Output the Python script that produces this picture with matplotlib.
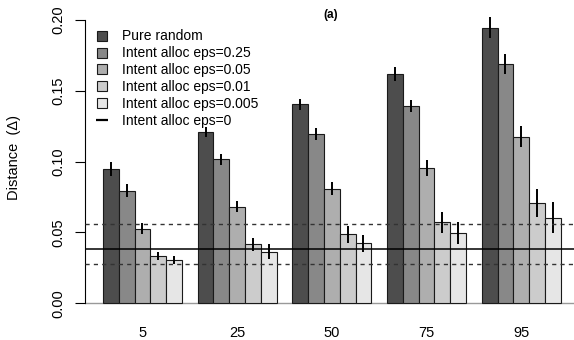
import matplotlib
matplotlib.use('Agg')
import matplotlib.pyplot as plt
from matplotlib.lines import Line2D

plt.rcParams['font.family'] = ['Liberation Sans', 'DejaVu Sans']

groups = ['5', '25', '50', '75', '95']
series = ['Pure random', 'Intent alloc eps=0.25', 'Intent alloc eps=0.05',
          'Intent alloc eps=0.01', 'Intent alloc eps=0.005']
colors = ['#4D4D4D', '#888888', '#AEAEAE', '#CCCCCC', '#E6E6E6']

# mean distance per series (rows) and group (columns)
means = [
    [0.0949, 0.1208, 0.1406, 0.1618, 0.1946],
    [0.0796, 0.1018, 0.1196, 0.1392, 0.1689],
    [0.0527, 0.0683, 0.0808, 0.0956, 0.1177],
    [0.0334, 0.0417, 0.0487, 0.0572, 0.0707],
    [0.0306, 0.0365, 0.0424, 0.0495, 0.0605],
]
errs = [
    [0.0050, 0.0035, 0.0039, 0.0051, 0.0072],
    [0.0047, 0.0039, 0.0041, 0.0043, 0.0072],
    [0.0040, 0.0042, 0.0047, 0.0056, 0.0077],
    [0.0027, 0.0045, 0.0060, 0.0075, 0.0098],
    [0.0028, 0.0053, 0.0059, 0.0076, 0.0112],
]
eps0_mean = 0.0386
eps0_band = [0.028, 0.0563]
yticks = [0.00, 0.05, 0.10, 0.15, 0.20]

fig = plt.figure(figsize=(5.74, 3.40), dpi=100)
ax = fig.add_axes([84.7 / 574, 1 - 314.6 / 340, (579 - 84.7) / 574, (314.6 - 8.7) / 340])

n = len(series)
for s in range(n):
    lefts = [1 + (n + 1) * g + s for g in range(len(groups))]
    ax.bar(lefts, means[s], width=1, align='edge', color=colors[s],
           edgecolor='#1a1a1a', linewidth=0.8, zorder=2)
    ax.vlines([l + 0.5 for l in lefts],
              [m - e for m, e in zip(means[s], errs[s])],
              [m + e for m, e in zip(means[s], errs[s])],
              color='black', linewidth=1.4, zorder=3)

ax.axhline(0, color='#999999', linewidth=1, zorder=1)
ax.axhline(eps0_mean, color='black', linewidth=1.1, zorder=4)
for v in eps0_band:
    ax.axhline(v, color='#333333', linewidth=1.0, linestyle=(0, (3, 3)), zorder=4)

ax.set_xlim(-0.16, 31.16)
ax.set_ylim(-0.008, 0.208)
ax.set_xticks([1 + (n + 1) * g + n / 2 for g in range(len(groups))])
ax.set_xticklabels(groups, fontsize=10.5)
ax.tick_params(axis='x', length=0, pad=8)
ax.set_yticks(yticks)
ax.set_yticklabels(['%.2f' % v for v in yticks], rotation=90, va='center', fontsize=10.5)
ax.tick_params(axis='y', length=7.2, width=0.8, pad=7)
for side in ['top', 'right', 'bottom']:
    ax.spines[side].set_visible(False)
ax.spines['left'].set_bounds(0, 0.2)
ax.spines['left'].set_linewidth(0.8)

fig.text(14 / 574, 1 - 158 / 340, 'Distance  (Δ)', rotation=90, ha='center', va='center', fontsize=10.5)
fig.text(331 / 574, 1 - 15 / 340, '(a)', ha='center', va='center', fontsize=8.5, fontweight='bold')

handles = [Line2D([], [], marker='s', linestyle='none', markersize=7,
                  markerfacecolor=c, markeredgecolor='#1a1a1a', markeredgewidth=0.8)
           for c in colors]
handles.append(Line2D([], [], marker='_', linestyle='none', markersize=9,
                      color='black', markeredgewidth=1.6))
ax.legend(handles, series + ['Intent alloc eps=0'], loc='upper left',
          bbox_to_anchor=(95 / 574, 1 - 29.5 / 340), bbox_transform=fig.transFigure,
          frameon=False, fontsize=10, handlelength=1.0, handletextpad=0.94,
          labelspacing=0.21, borderpad=0, borderaxespad=0)

fig.savefig('out.png', dpi=100)
